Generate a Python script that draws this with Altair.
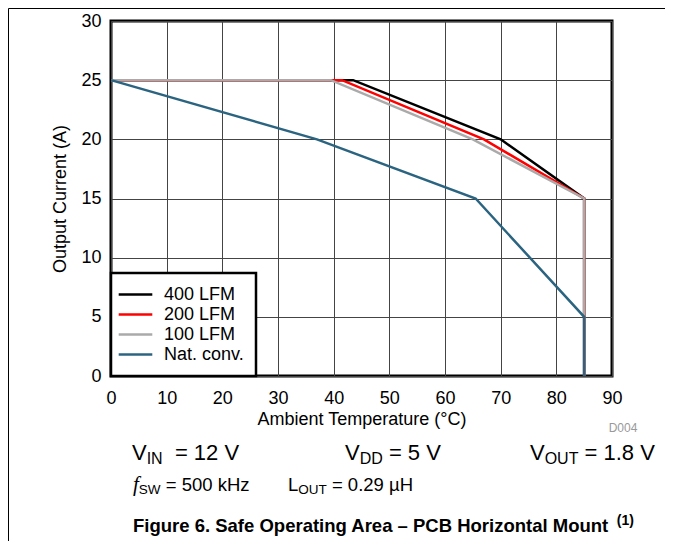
import altair as alt
import pandas as pd

# ---- data ----
series_names = ["400 LFM", "200 LFM", "100 LFM", "Nat. conv."]
series_colors = ["#000000", "#ff0000", "#aaaaaa", "#2b6480"]

temp_400 = [0, 43.5, 70, 85, 85]
curr_400 = [25, 25, 20, 15, 0]
temp_200 = [0, 41.5, 67, 85, 85]
curr_200 = [25, 25, 20, 15, 0]
temp_100 = [0, 39.5, 65, 85, 85]
curr_100 = [25, 25, 20, 15, 0]
temp_nat = [0, 37, 65.5, 85, 85]
curr_nat = [25, 20, 15, 5, 0]

x_ticks = [0, 10, 20, 30, 40, 50, 60, 70, 80, 90]
y_ticks = [0, 5, 10, 15, 20, 25, 30]

rows = []
for name, ts, cs in zip(series_names,
                        [temp_400, temp_200, temp_100, temp_nat],
                        [curr_400, curr_200, curr_100, curr_nat]):
    for i, (t, c) in enumerate(zip(ts, cs)):
        rows.append({"series": name, "temp": t, "current": c, "idx": i})
df = pd.DataFrame(rows)

FONT = "Liberation Sans"
W = 501
H = 355

color_scale = alt.Scale(domain=series_names, range=series_colors)

def series_layer(name):
    return alt.Chart(df).transform_filter(
        alt.datum.series == name
    ).mark_line(strokeWidth=2.5, clip=False).encode(
        x=alt.X("temp:Q", scale=alt.Scale(domain=[0, 90], nice=False),
                axis=alt.Axis(values=x_ticks, title="Ambient Temperature (°C)",
                              labelPadding=13, titlePadding=3, labelFlush=False)),
        y=alt.Y("current:Q", scale=alt.Scale(domain=[0, 30], nice=False),
                axis=alt.Axis(values=y_ticks, title="Output Current (A)",
                              labelPadding=10, titlePadding=11, labelFlush=False)),
        color=alt.Color("series:N", scale=color_scale,
                        legend=alt.Legend(title=None, orient="bottom-left", offset=0,
                                          padding=12, strokeColor="black",
                                          fillColor="white",
                                          symbolType="M-2.1,0H2.1", symbolSize=256,
                                          symbolOffset=3,
                                          symbolStrokeWidth=2.5, labelFontSize=18,
                                          labelFont=FONT, labelColor="black",
                                          rowPadding=1, labelOffset=19)),
        order=alt.Order("idx:Q"),
    )

lines = [series_layer(n) for n in series_names]

# ---- annotation texts ----
REG = {"V": 667, "I": 278, "N": 722, "D": 722, "O": 778, "U": 722, "T": 611,
       "S": 667, "W": 944, "L": 556, "k": 500, "H": 722, "z": 500, "µ": 576,
       " ": 278, "=": 584, ".": 278, "f": 278}
BOLD = {"F": 611, "i": 278, "g": 611, "u": 611, "r": 389, "e": 556, " ": 278,
        "6": 556, ".": 278, "S": 667, "a": 556, "f": 333, "O": 778, "p": 611,
        "t": 333, "n": 611, "A": 722, "–": 556, "P": 667, "C": 722, "B": 722,
        "H": 722, "o": 611, "z": 500, "l": 278, "M": 833, "(": 333, "1": 556,
        ")": 333}

def width(s, size, bold=False):
    tab = BOLD if bold else REG
    return sum(tab.get(ch, 556) for ch in s) * size / 1000.0

one = alt.Data(values=[{}])

def run(x0, y0, parts):
    out = []
    x = x0
    for txt, size, dy, font, style, weight in parts:
        bold = weight == "bold"
        lead = len(txt) - len(txt.lstrip(" "))
        x += lead * (BOLD if bold else REG)[" "] * size / 1000.0
        t = txt.strip(" ")
        out.append(alt.Chart(one).mark_text(
            align="left", baseline="alphabetic", fontSize=size, font=font,
            fontStyle=style, fontWeight=weight, color="black").encode(
            x=alt.value(x), y=alt.value(y0 + dy), text=alt.value(t)))
        x += width(t, size, bold)
    return out

BIG = 22
SUB = 16
MID = 18.5
SUB2 = 13.5
texts = []
texts += run(21, 439, [("V", BIG, 0, FONT, "normal", "normal"),
                       ("IN", SUB, 4, FONT, "normal", "normal"),
                       ("  =  12 V", BIG, 0, FONT, "normal", "normal")])
texts += run(234, 439, [("V", BIG, 0, FONT, "normal", "normal"),
                        ("DD", SUB, 4, FONT, "normal", "normal"),
                        (" = 5 V", BIG, 0, FONT, "normal", "normal")])
texts += run(419, 439, [("V", BIG, 0, FONT, "normal", "normal"),
                        ("OUT", SUB, 4, FONT, "normal", "normal"),
                        (" = 1.8 V", BIG, 0, FONT, "normal", "normal")])
texts += run(22, 470, [("f", 21, 0, "Liberation Serif", "italic", "normal"),
                       ("SW", SUB2, 3, FONT, "normal", "normal"),
                       (" = 500 kHz", MID, 0, FONT, "normal", "normal")])
texts += run(177, 470, [("L", MID, 0, FONT, "normal", "normal"),
                        ("OUT", SUB2, 3, FONT, "normal", "normal"),
                        (" = 0.29 µH", MID, 0, FONT, "normal", "normal")])
texts += run(22, 511, [("Figure 6. Safe Operating Area – PCB Horizontal Mount", 18.5, 0, FONT, "normal", "bold"),
                       ("  (1)", 14, -7, FONT, "normal", "bold")])

d004 = alt.Chart(one).mark_text(align="center", baseline="middle", fontSize=12,
                                font=FONT, color="#999999").encode(
    x=alt.value(512), y=alt.value(407), text=alt.value("D004"))

frame_h = alt.Chart(one).mark_rule(color="black", strokeWidth=1).encode(
    x=alt.value(-102.5), x2=alt.value(560), y=alt.value(-12.5))
frame_v = alt.Chart(one).mark_rule(color="black", strokeWidth=1).encode(
    x=alt.value(-102.5), y=alt.value(-12.5), y2=alt.value(530))

chart = alt.layer(*lines, *texts, d004, frame_h, frame_v).properties(
    width=W, height=H,
    autosize=alt.AutoSizeParams(type="none"),
    padding={"left": 103, "top": 13, "right": 53, "bottom": 165},
).configure_view(
    stroke="black", strokeWidth=3
).configure_axis(
    labelFont=FONT, labelFontSize=18, labelColor="black",
    titleFont=FONT, titleFontSize=18, titleFontWeight="normal", titleColor="black",
    ticks=False, domain=False, grid=True, gridColor="#444444", gridWidth=1,
    gridOpacity=1,
).configure_legend(
    strokeWidth=2.5
)

chart.save("out.html", embed_options={"renderer": "svg", "actions": False})
